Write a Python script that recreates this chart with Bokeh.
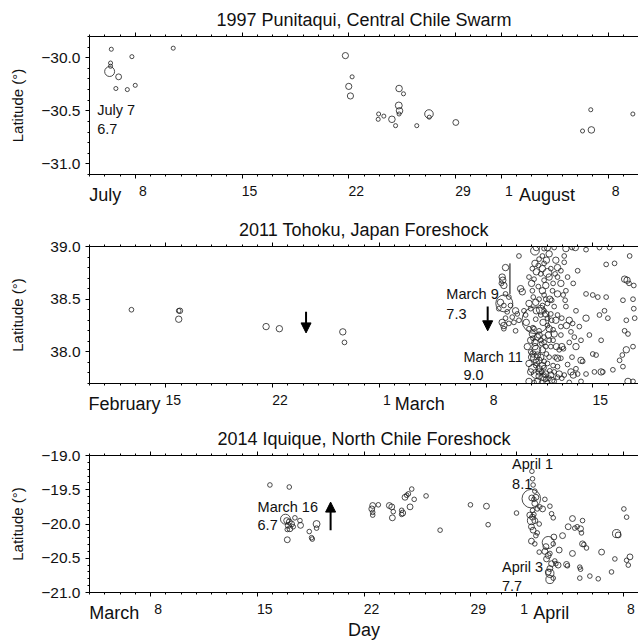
import math
from bokeh.plotting import figure
from bokeh.models import (Range1d, FixedTicker, LinearAxis, Label, Arrow, NormalHead,
                          ColumnDataSource)
from bokeh.layouts import column
from bokeh.embed import file_html
from bokeh.resources import INLINE

FONT = "Liberation Sans"

# ---------------- 1997 Punitaqui (time: days from June 30; August d -> 31 + d)
t_1997 = [6.43, 6.38, 6.38, 6.32, 6.91, 6.73, 7.48, 8.00, 7.78, 10.49,
          21.78, 22.22, 22.00, 22.11, 25.30, 25.59, 25.28, 25.33, 25.30, 23.96,
          24.30, 23.93, 24.83, 25.07, 26.46, 27.26, 27.28, 29.02, 37.87, 37.91,
          37.33, 40.63]
lat_1997 = [-29.92, -30.05, -30.08, -30.13, -30.18, -30.29, -30.30, -30.26, -29.99, -29.91,
            -29.98, -30.18, -30.27, -30.36, -30.29, -30.34, -30.45, -30.50, -30.53, -30.53,
            -30.55, -30.58, -30.58, -30.64, -30.64, -30.53, -30.56, -30.61, -30.49, -30.68,
            -30.69, -30.53]
mag_1997 = [5.1, 5.1, 5.1, 6.7, 5.7, 5.1, 5.1, 5.1, 5.1, 5.1,
            5.8, 5.1, 5.8, 5.8, 5.9, 5.1, 6.0, 5.9, 5.1, 5.1,
            5.1, 5.1, 5.9, 5.1, 5.1, 6.4, 5.1, 5.7, 5.1, 5.9,
            5.1, 5.1]

# ---------------- 2011 Tohoku (time: days from Jan 31; March d -> 28 + d)
t_2011 = [12.75, 15.85, 15.93, 15.85, 21.58, 22.45, 26.61, 26.72,
          37.28, 37.06, 37.10, 37.01, 37.17, 38.27, 38.38, 37.28, 37.50, 36.95,
          37.17, 37.20, 37.94, 38.05, 37.72, 37.28, 37.06, 37.17, 37.50, 37.83,
          38.16, 37.17, 37.94, 38.82, 38.93, 36.84, 37.39, 37.61,
          39.24, 38.16, 39.21, 39.30, 39.81, 40.03, 40.47, 41.13, 41.24, 41.64,
          41.86, 42.56, 43.44, 44.10, 45.42, 39.21, 39.43, 39.81, 39.96, 40.58,
          40.69, 41.13, 42.01, 43.88, 44.43, 39.30, 39.59, 40.03, 40.14, 40.53,
          40.69, 40.40, 45.09, 45.25, 45.38, 45.69, 41.72, 39.70, 39.81, 39.48,
          39.26, 40.18, 40.31, 41.24, 41.19, 41.06, 42.56, 43.00, 43.33, 43.88,
          44.98, 45.64, 39.30, 39.59, 39.81, 39.92, 40.25, 40.69, 40.58, 40.97,
          41.46, 41.68, 41.28, 40.91, 42.56, 43.44, 43.77, 43.99, 45.20, 45.75,
          45.69, 39.74, 39.26, 40.03, 40.14, 40.40, 38.82, 39.48, 39.48, 39.81,
          40.47, 40.91, 41.57, 41.79, 42.78, 43.55, 45.09, 45.31, 45.64, 38.71,
          39.21, 39.30, 39.37, 39.21, 39.48, 39.65, 39.92, 40.25, 40.62, 40.80,
          40.97, 41.08, 40.14, 40.53, 40.69, 40.91, 41.64, 42.23, 42.34, 43.00,
          43.22, 44.76, 45.20, 44.94, 38.82, 39.26, 39.48, 39.81, 40.40, 40.69,
          41.35, 41.57, 42.01, 41.72, 41.90, 39.26, 39.48, 39.74, 39.92, 40.14,
          40.31, 40.47, 40.69, 40.97, 42.56, 43.11, 43.55, 43.66, 44.32, 44.98,
          45.31, 45.64, 38.82, 39.15, 39.65, 41.46, 42.23,
          39.04, 39.08, 38.93, 39.15, 39.59, 39.70, 39.04, 38.99, 39.15, 38.82,
          39.81, 39.92, 39.43, 39.10, 40.03, 38.60, 38.49, 38.64, 38.99, 39.08,
          38.93, 39.65, 39.92, 40.18, 39.81, 39.96, 39.70, 40.40, 40.14, 40.09,
          40.31, 40.03,
          39.08, 39.37, 39.59, 39.21, 39.81, 38.93, 39.08, 39.59, 39.30, 39.70,
          40.03, 39.48, 39.81, 40.03, 39.37, 40.25, 40.47, 40.80, 41.13, 39.70,
          39.48, 40.14, 40.25, 39.70, 39.04, 40.91, 40.91, 41.35, 40.36, 40.69,
          39.92, 40.47, 41.24, 41.90, 42.12, 42.23, 41.90, 41.46]
lat_2011 = [38.40, 38.39, 38.39, 38.31, 38.24, 38.22, 38.19, 38.09,
            38.80, 38.71, 38.68, 38.65, 38.63, 38.60, 38.57, 38.55, 38.52, 38.47,
            38.44, 38.46, 38.39, 38.36, 38.33, 38.32, 38.28, 38.25, 38.27, 38.28,
            38.30, 38.22, 38.20, 38.46, 38.41, 38.41, 38.38, 38.44,
            38.30, 38.91, 38.96, 38.99, 38.98, 38.99, 38.99, 38.91, 38.98, 38.99,
            38.99, 38.97, 38.99, 38.99, 38.91, 38.84, 38.82, 38.84, 38.87, 38.87,
            38.80, 38.85, 38.77, 38.83, 38.84, 38.76, 38.74, 38.75, 38.71, 38.74,
            38.71, 38.65, 38.69, 38.68, 38.65, 38.63, 38.65, 38.58, 38.54, 38.50,
            38.47, 38.50, 38.49, 38.58, 38.49, 38.54, 38.55, 38.54, 38.52, 38.52,
            38.49, 38.50, 38.39, 38.40, 38.39, 38.36, 38.36, 38.35, 38.30, 38.32,
            38.30, 38.27, 38.25, 38.24, 38.32, 38.35, 38.39, 38.32, 38.30, 38.32,
            38.41, 38.28, 38.31, 38.25, 38.22, 38.21, 38.22, 38.20, 38.16, 38.14,
            38.17, 38.16, 38.19, 38.14, 38.16, 38.11, 38.20, 38.17, 38.05, 38.05,
            38.05, 38.02, 37.97, 37.94, 37.92, 38.08, 38.05, 38.05, 38.05, 38.02,
            38.05, 38.03, 37.95, 37.95, 37.94, 37.94, 37.95, 37.92, 37.91, 37.98,
            37.97, 37.92, 38.02, 37.97, 37.89, 37.87, 37.84, 37.85, 37.87, 37.86,
            37.88, 37.81, 37.79, 37.78, 37.84, 37.79, 37.77, 37.76, 37.74, 37.75,
            37.73, 37.72, 37.76, 37.75, 37.79, 37.81, 37.81, 37.81, 37.83, 37.86,
            37.72, 37.72, 37.72, 37.71, 37.71, 37.71, 37.72,
            38.17, 38.13, 38.11, 38.22, 38.35, 38.44, 38.58, 38.65, 38.69, 38.71,
            38.68, 38.63, 38.62, 38.52, 38.46, 38.35, 38.39, 38.28, 37.95, 37.84,
            37.81, 37.81, 37.79, 37.82, 37.91, 37.98, 38.02, 38.11, 38.11, 38.16,
            38.30, 38.32,
            38.23, 38.14, 38.11, 38.09, 38.09, 38.00, 37.98, 37.95, 37.90, 37.87,
            37.89, 37.81, 37.78, 37.71, 37.72, 37.78, 37.81, 37.79, 37.78, 38.91,
            38.88, 38.93, 38.79, 38.79, 38.79, 38.77, 38.65, 38.71, 38.58, 38.55,
            38.50, 38.43, 38.43, 38.39, 38.24, 38.11, 38.05, 38.09]
mag_2011 = [4.1, 4.1, 4.4, 4.7, 4.7, 4.7, 4.7, 4.1,
            4.7, 4.7, 4.7, 4.1, 4.7, 4.7, 4.7, 4.1, 4.1, 4.7,
            4.1, 7.3, 4.7, 4.1, 4.1, 4.1, 4.7, 4.7, 4.1, 4.1,
            4.1, 4.1, 4.1, 4.7, 4.1, 4.1, 4.1, 4.1,
            9.0, 4.1, 5.4, 4.7, 4.1, 4.7, 4.1, 4.1, 4.7, 4.1,
            4.7, 4.1, 4.1, 4.1, 4.1, 4.7, 4.1, 4.1, 4.7, 4.7,
            4.7, 4.1, 4.1, 4.1, 4.1, 4.7, 4.1, 5.4, 4.7, 4.1,
            4.1, 4.1, 4.7, 4.7, 4.1, 4.1, 4.1, 4.7, 4.1, 4.1,
            4.7, 4.7, 4.1, 4.1, 4.1, 4.1, 4.1, 4.1, 4.1, 4.1,
            4.1, 4.1, 4.7, 5.4, 4.1, 4.7, 4.1, 4.1, 4.7, 4.1,
            4.7, 4.1, 4.7, 4.1, 4.7, 4.1, 4.1, 4.1, 4.1, 4.1,
            4.1, 4.7, 4.1, 4.1, 4.7, 4.1, 4.1, 4.1, 4.7, 4.1,
            4.7, 4.1, 4.1, 4.1, 4.1, 4.1, 4.1, 4.1, 4.1, 4.7,
            4.7, 5.4, 4.7, 5.4, 4.7, 4.1, 4.1, 4.1, 4.7, 4.1,
            4.7, 4.1, 4.1, 4.1, 4.7, 4.1, 4.1, 4.7, 4.1, 4.1,
            4.1, 4.1, 4.7, 4.1, 4.7, 4.1, 4.7, 4.1, 4.1, 4.1,
            4.1, 4.7, 4.1, 4.7, 4.1, 5.4, 4.7, 4.7, 4.1, 4.1,
            4.7, 4.1, 4.1, 4.1, 4.1, 4.1, 4.7, 4.1, 4.1, 4.1,
            4.7, 4.1, 4.7, 4.1, 4.1, 4.1, 4.1,
            4.7, 4.1, 4.7, 4.1, 4.1, 4.1, 4.1, 4.7, 4.1, 4.1,
            4.1, 4.7, 4.1, 4.1, 4.1, 4.1, 4.1, 4.7, 4.7, 5.4,
            4.7, 4.1, 4.7, 4.1, 4.1, 4.1, 4.7, 4.1, 4.1, 4.7,
            4.1, 4.1,
            4.1, 4.7, 4.1, 4.7, 4.1, 4.1, 4.7, 4.7, 4.7, 4.7,
            4.1, 4.7, 4.1, 4.1, 4.7, 4.7, 4.1, 4.7, 4.1, 4.1,
            4.1, 4.7, 4.1, 4.7, 4.1, 4.1, 4.7, 4.1, 4.1, 4.7,
            4.1, 4.1, 4.1, 4.1, 4.1, 4.1, 4.7, 4.1]

# ---------------- 2014 Iquique (time: days from Feb 28; April d -> 31 + d)
t_2014 = [15.83, 17.10, 16.85, 16.93, 17.10, 17.03, 17.25, 17.14, 17.36, 17.47,
          17.80, 17.84, 16.97, 16.97, 18.41, 18.56, 18.61, 18.89, 18.89, 22.57,
          22.51, 22.57, 22.57, 22.94, 23.66, 23.82, 23.92, 23.86, 24.47, 24.54,
          24.47, 24.69, 24.80, 24.91, 25.13, 25.29, 25.02, 26.07, 26.99,
          28.98, 30.03, 30.14, 32.00, 33.01, 33.05, 33.09, 33.20, 32.97, 33.00,
          33.27, 33.14, 33.86, 33.53, 33.71, 34.19, 34.30, 34.41, 32.87, 33.05,
          33.14, 32.98, 33.20, 33.49, 32.98, 33.09, 33.36, 33.27, 32.98, 33.20,
          34.08, 33.86, 34.19, 34.08, 34.45, 34.41, 34.80, 35.02, 34.51, 34.30,
          34.19, 34.08, 34.19, 34.19, 34.41, 34.73, 35.28, 35.34, 35.67, 35.39,
          35.67, 35.82, 35.98, 36.20, 36.33, 36.26, 36.33, 36.42, 36.59, 36.15,
          36.20, 36.15, 36.81, 37.36, 37.58, 38.23, 38.45, 38.56, 38.67, 39.04,
          39.22, 39.22, 39.44, 39.33, 33.20, 33.36, 33.05, 33.93, 33.49, 33.97,
          34.58]
lat_2014 = [-19.43, -19.46, -19.93, -19.95, -19.97, -20.02, -20.00, -20.07, -20.04, -19.91,
            -19.95, -20.02, -20.08, -20.23, -20.11, -20.20, -20.22, -20.00, -20.06, -19.73,
            -19.78, -19.83, -19.87, -19.72, -19.73, -19.75, -19.82, -19.91, -19.80, -19.84,
            -19.86, -19.61, -19.58, -19.56, -19.49, -19.64, -19.75, -19.59, -20.09,
            -19.72, -19.74, -20.01, -19.84, -19.23, -19.34, -19.43, -19.52, -19.63, -19.62,
            -19.61, -19.64, -19.64, -19.75, -19.78, -19.74, -19.85, -19.91, -19.87, -19.90,
            -19.86, -19.95, -19.95, -20.00, -20.04, -20.09, -20.13, -20.17, -20.25, -20.29,
            -20.27, -20.40, -20.43, -20.46, -20.19, -20.29, -20.38, -20.17, -20.54, -20.58,
            -20.65, -20.70, -20.72, -20.81, -20.79, -20.60, -20.59, -20.61, -20.43, -20.04,
            -19.92, -20.06, -20.04, -20.07, -19.95, -20.13, -20.29, -20.30, -20.35, -20.63,
            -20.66, -20.79, -20.76, -20.80, -20.41, -20.70, -20.51, -20.14, -20.16, -19.78,
            -19.90, -20.53, -20.48, -20.60, -19.70, -19.78, -19.80, -20.33, -20.41, -20.51,
            -20.58]
mag_2014 = [5.3, 5.3, 6.7, 5.7, 5.7, 5.7, 5.7, 5.7, 5.3, 5.3,
            5.3, 5.7, 5.3, 5.7, 5.3, 5.3, 5.3, 6.0, 5.3, 5.7,
            5.7, 5.3, 5.3, 5.3, 5.7, 5.7, 5.3, 5.7, 5.3, 5.7,
            5.3, 5.7, 5.3, 5.3, 5.3, 5.3, 5.7, 5.3, 5.3,
            5.3, 5.7, 5.3, 5.3, 5.3, 5.3, 5.3, 5.3, 8.1, 5.7,
            5.7, 5.3, 5.3, 5.3, 5.7, 5.3, 5.3, 5.3, 5.7, 5.7,
            5.3, 6.3, 5.7, 5.3, 5.7, 5.7, 5.3, 5.3, 5.7, 5.3,
            7.1, 5.7, 5.3, 5.7, 5.7, 5.3, 5.7, 5.7, 5.3, 5.7,
            5.7, 5.7, 6.3, 6.3, 5.3, 5.7, 5.7, 5.3, 5.7, 5.7,
            5.7, 5.3, 5.3, 5.7, 5.3, 5.3, 5.7, 5.3, 5.3, 5.3,
            5.3, 5.3, 5.3, 5.3, 5.7, 5.3, 5.3, 6.3, 5.7, 5.3,
            5.3, 5.3, 5.7, 5.3, 5.7, 5.3, 5.3, 5.7, 5.3, 5.7,
            5.3]

titles = ["1997 Punitaqui, Central Chile Swarm",
          "2011 Tohoku, Japan Foreshock",
          "2014 Iquique, North Chile Foreshock"]

day_ticks_1997 = [8, 15, 22, 29, 32, 39]
day_labels_1997 = ["8", "15", "22", "29", "1", "8"]
months_1997 = ["July", "August"]
month_center_1997 = [6.03, 35.0]

day_ticks_2011 = [15, 22, 29, 36, 43]
day_labels_2011 = ["15", "22", "1", "8", "15"]
months_2011 = ["February", "March"]
month_center_2011 = [12.3, 31.65]

day_ticks_2014 = [8, 15, 22, 29, 32, 39]
day_labels_2014 = ["8", "15", "22", "29", "1", "8"]
months_2014 = ["March", "April"]
month_center_2014 = [5.62, 34.28]

lat_ticks_1997 = [-31.0, -30.5, -30.0]
lat_ticks_2011 = [38.0, 38.5, 39.0]
lat_ticks_2014 = [-21.0, -20.5, -20.0, -19.5, -19.0]

note_text_1997 = ["July 7", "6.7"]
note_t_1997 = [5.5, 5.5]
note_lat_1997 = [-30.49, -30.67]

note_text_2011 = ["March 9", "7.3", "March 11", "9.0"]
note_t_2011 = [33.40, 33.40, 34.52, 34.52]
note_lat_2011 = [38.55, 38.36, 37.95, 37.78]

note_text_2014 = ["March 16", "6.7", "April 1", "8.1", "April 3", "7.7"]
note_t_2014 = [15.02, 15.02, 31.71, 31.71, 31.05, 31.05]
note_lat_2014 = [-19.75, -20.01, -19.13, -19.41, -20.63, -20.90]

arrow_t_2011 = [24.20, 36.11]
arrow_from_2011 = [38.38, 38.43]
arrow_to_2011 = [38.18, 38.20]
arrow_t_2014 = [19.81]
arrow_from_2014 = [-20.09]
arrow_to_2014 = [-19.68]

mark_t_2011 = [37.57]
mark_from_2011 = [38.55]
mark_to_2011 = [38.84]

W = 638
TXT = "#111111"


def label_axis(ticks, labels, size, standoff, xlabel=None, xlabel_standoff=0):
    ax = LinearAxis(ticker=FixedTicker(ticks=ticks),
                    major_label_overrides=dict(zip(ticks, labels)),
                    major_label_text_font=FONT, major_label_text_font_size=size,
                    major_label_text_color=TXT, major_label_standoff=standoff,
                    major_tick_in=0, major_tick_out=0, major_tick_line_color=None,
                    minor_tick_line_color=None, axis_line_color=None)
    if xlabel:
        ax.axis_label = xlabel
        ax.axis_label_text_font = FONT
        ax.axis_label_text_font_size = "18px"
        ax.axis_label_text_font_style = "normal"
        ax.axis_label_text_color = TXT
        ax.axis_label_standoff = xlabel_standoff
    return ax


def build(title, t, lat, mag, xr, yr, day_ticks, day_labels, months, month_center,
          lat_ticks, notes, size_c, size_k, height, top, bottom, als,
          arrows=None, marks=None, xlabel=None):
    x0, x1 = xr
    y0, y1 = yr
    p = figure(width=W, height=height, x_range=Range1d(x0, x1), y_range=Range1d(y0, y1),
               output_backend="svg", toolbar_location=None,
               x_axis_location=None, y_axis_location=None,
               min_border_left=89, min_border_right=0,
               min_border_top=top, min_border_bottom=bottom,
               background_fill_color="white", border_fill_color="white")
    p.outline_line_color = None
    p.grid.visible = False

    src = ColumnDataSource(dict(t=t, lat=lat, size=[size_c * m ** size_k for m in mag]))
    p.scatter("t", "lat", size="size", source=src, marker="circle",
              fill_color=None, line_color="#1e1e1e", line_width=0.8)

    minor_days = list(range(int(x0), int(x1) + 1))
    # frame: bottom ticks
    bx = LinearAxis(ticker=FixedTicker(ticks=day_ticks, minor_ticks=minor_days),
                    major_label_overrides={d: "" for d in day_ticks},
                    major_label_standoff=0, major_label_text_font_size="1px",
                    major_tick_in=0, major_tick_out=4, minor_tick_in=0, minor_tick_out=2,
                    axis_line_color="black", axis_line_width=1)
    p.add_layout(bx, "below")
    # day numbers (centred in their day)
    p.add_layout(label_axis([d + 0.5 for d in day_ticks], day_labels, "14px", 7), "below")
    # month names, pulled up into the day-number row
    p.add_layout(label_axis(month_center, months, "18px", -14, xlabel, -6), "below")

    # frame: top ticks, with the panel title
    tx = LinearAxis(ticker=FixedTicker(ticks=day_ticks, minor_ticks=minor_days),
                    major_label_overrides={d: "" for d in day_ticks},
                    major_label_standoff=0, major_label_text_font_size="1px",
                    major_tick_in=0, major_tick_out=4, minor_tick_in=0, minor_tick_out=2,
                    axis_line_color="black", axis_line_width=1,
                    axis_label=title, axis_label_text_font=FONT,
                    axis_label_text_font_size="18px", axis_label_text_font_style="normal",
                    axis_label_text_color=TXT, axis_label_standoff=3)
    p.add_layout(tx, "above")

    n_minor = int(round((y1 - y0) / 0.1))
    minor_lat = [round(y0 + 0.1 * i, 1) for i in range(n_minor + 1)]
    ly = LinearAxis(ticker=FixedTicker(ticks=lat_ticks, minor_ticks=minor_lat),
                    major_label_overrides={v: f"{v:.1f}".replace("-", "\u2212") for v in lat_ticks},
                    major_label_text_font=FONT, major_label_text_font_size="15.5px",
                    major_label_text_color=TXT, major_label_standoff=5,
                    major_tick_in=0, major_tick_out=4, minor_tick_in=0, minor_tick_out=2,
                    axis_line_color="black", axis_line_width=1,
                    axis_label="Latitude (°)", axis_label_text_font=FONT,
                    axis_label_text_font_size="15px", axis_label_text_font_style="normal",
                    axis_label_text_color=TXT, axis_label_standoff=als)
    p.add_layout(ly, "left")

    for txt, nx, ny in zip(*notes):
        p.add_layout(Label(x=nx, y=ny, text=txt, text_align="left", text_baseline="middle",
                           text_font=FONT, text_font_size="14.5px", text_color=TXT))

    if arrows:
        at, af, ato = arrows
        asrc = ColumnDataSource(dict(x=at, y0=af, y1=ato))
        p.add_layout(Arrow(end=NormalHead(size=10, fill_color="black", line_color="black"),
                           source=asrc, x_start="x", y_start="y0", x_end="x", y_end="y1",
                           line_width=2, line_color="black"))
    if marks:
        mt, mf, mto = marks
        p.segment(x0=mt, y0=mf, x1=mt, y1=mto, line_color="black", line_width=1)
    return p


p1 = build(titles[0], t_1997, lat_1997, mag_1997, (5, 41), (-31.1, -29.8),
           day_ticks_1997, day_labels_1997, months_1997, month_center_1997, lat_ticks_1997,
           (note_text_1997, note_t_1997, note_lat_1997), 0.0198, 3.27,
           210, 36, 36, 12)
p2 = build(titles[1], t_2011, lat_2011, mag_2011, (10, 46), (37.7, 39.0),
           day_ticks_2011, day_labels_2011, months_2011, month_center_2011, lat_ticks_2011,
           (note_text_2011, note_t_2011, note_lat_2011), 0.21, 2.21,
           210, 36, 37, 21,
           arrows=(arrow_t_2011, arrow_from_2011, arrow_to_2011),
           marks=(mark_t_2011, mark_from_2011, mark_to_2011))
p3 = build(titles[2], t_2014, lat_2014, mag_2014, (4, 40), (-21.0, -19.0),
           day_ticks_2014, day_labels_2014, months_2014, month_center_2014, lat_ticks_2014,
           (note_text_2014, note_t_2014, note_lat_2014), 0.0198, 3.27,
           222, 35, 50, 12,
           arrows=(arrow_t_2014, arrow_from_2014, arrow_to_2014), xlabel="Day")

layout = column(p1, p2, p3)
open("out.html", "w").write(file_html(layout, INLINE))
